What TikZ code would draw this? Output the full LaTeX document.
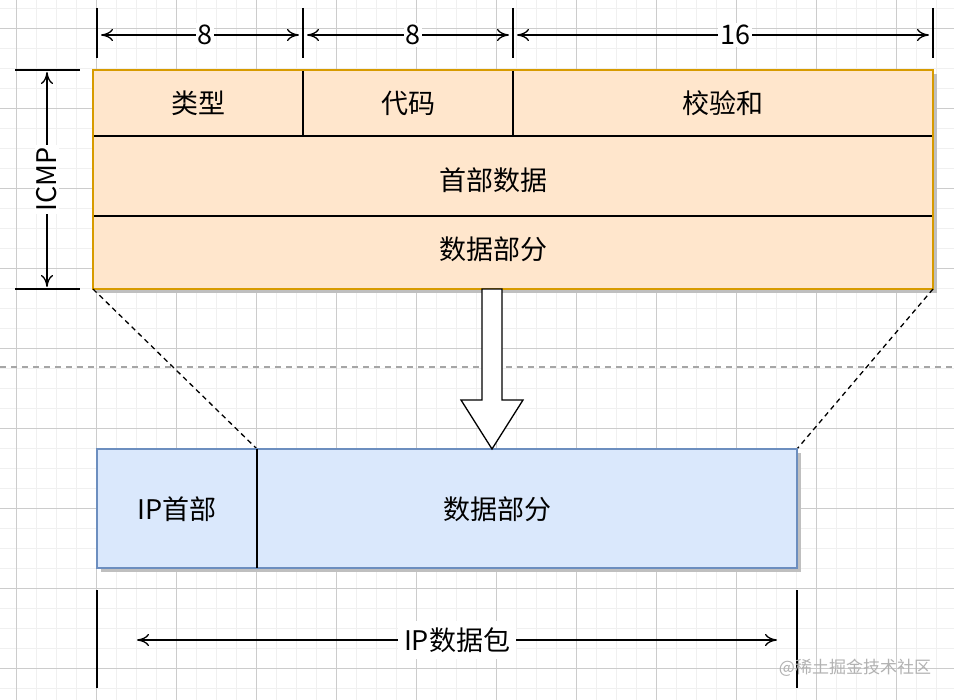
\documentclass[tikz,border=0pt]{standalone}
\usepackage{fontspec}
\setmainfont{Noto Sans CJK SC}
\usetikzlibrary{arrows.meta}
\definecolor{og}{HTML}{FFE6CC}\definecolor{ob}{HTML}{D79B00}
\definecolor{bg}{HTML}{DAE8FC}\definecolor{bb}{HTML}{6C8EBF}
\begin{document}
\begin{tikzpicture}[x=1pt,y=-1pt,
 txt/.style={font=\fontsize{27}{31}\selectfont},
 dim/.style={line width=1.3pt,{To[length=12pt,width=12pt]}-{To[length=12pt,width=12pt]}},
 tick/.style={line width=1.5pt}]
\useasboundingbox (0,0) rectangle (954,700);
\fill[white] (0,0) rectangle (954,700);
\foreach \x in {16,36,...,954} \draw[black!6] (\x,0) -- (\x,700);
\foreach \y in {8,28,...,700} \draw[black!6] (0,\y) -- (954,\y);
\foreach \x in {16,96,...,954} \draw[black!20] (\x,0) -- (\x,700);
\foreach \y in {28,108,...,700} \draw[black!20] (0,\y) -- (954,\y);
\draw[black!35,line width=1.2pt,dash pattern=on 6pt off 5pt] (0,367) -- (954,367);
% top dims
\foreach \x/\n in {97/t1,303/t2,513/t3,933/t4}{\draw[tick] (\x,8) -- (\x,58); \coordinate (\n) at (\x,35);}
\draw[dim] ([xshift=4]t1) -- node[fill=white,txt,inner sep=2pt,xshift=5]{8} ([xshift=-4]t2);
\draw[dim] ([xshift=4]t2) -- node[fill=white,txt,inner sep=2pt,xshift=5]{8} ([xshift=-4]t3);
\draw[dim] ([xshift=4]t3) -- node[fill=white,txt,inner sep=2pt,xshift=12]{16} ([xshift=-4]t4);
% orange box
\fill[black!25] (97,74) rectangle (937,293);
\fill[og] (93,70) rectangle (933,289);
\node[txt] (c1) at (198,103) {类型};
\node[txt] (c2) at (408,103) {代码};
\node[txt] (c3) at (723,103) {校验和};
\node[txt] (c4) at (493,180) {首部数据};
\node[txt] (c5) at (493,249) {数据部分};
\draw[line width=1.3pt] (93,136) -- (933,136) (93,216) -- (933,216) (303,70) -- (303,136) (513,70) -- (513,136);
\draw[ob,line width=1.3pt] (93,70) rectangle (933,289);
% ICMP
\draw[tick] (15,70) -- (80,70); \draw[tick] (15,289) -- (80,289);
\coordinate (l1) at (47,72); \coordinate (l2) at (47,287);
\draw[dim] (l1) -- node[fill=white,txt,rotate=90,inner sep=2pt]{ICMP} (l2);
% dashed
\draw[line width=1.3pt,dash pattern=on 5pt off 4pt] (93,289) -- (257,449);
\draw[line width=1.3pt,dash pattern=on 5pt off 4pt] (933,289) -- (797,449);
% blue box
\fill[black!25] (101,453) rectangle (801,572);
\draw[draw=bb,fill=bg,line width=1.2pt] (97,449) rectangle (797,568);
\draw[line width=1.3pt] (257,449) -- (257,568);
\node[txt] (iph) at (177,509) {IP首部};
\node[txt] (dat) at (497,509) {数据部分};
% big arrow
\draw[line width=1.3pt,fill=white] (482,289) -- (502,289) -- (502,400) -- (523,400) -- (492,449) -- (461,400) -- (482,400) -- cycle;
% bottom
\draw[tick] (97,590) -- (97,688); \draw[tick] (797,590) -- (797,688);
\coordinate (b1) at (137,640); \coordinate (b2) at (777,640);
\draw[dim] (b1) -- node[fill=white,txt,inner sep=6pt]{IP数据包} (b2);
\node[black!30,font=\fontsize{17}{20}\selectfont] at (855,668) {@稀土掘金技术社区};
\end{tikzpicture}
\end{document}
